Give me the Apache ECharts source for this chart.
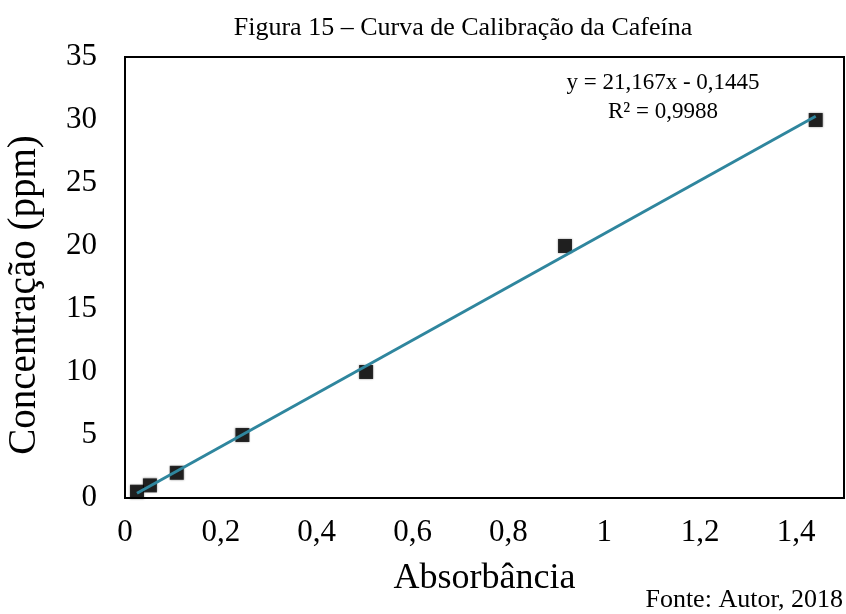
<!DOCTYPE html>
<html>
<head>
<meta charset="utf-8">
<script src="https://cdn.jsdelivr.net/npm/echarts@6/dist/echarts.min.js"></script>
<style>
  html, body { margin: 0; padding: 0; background: #fff; }
  #chart { width: 846px; height: 614px; }
</style>
</head>
<body>
<div id="chart"></div>
<script>
// dados
const absorbancia = [0.025, 0.052, 0.108, 0.245, 0.503, 0.918, 1.441];
const concentracao = [0.5, 1, 2, 5, 10, 20, 30];
// extremos da linha de tendência
const tendenciaX = [0.025, 1.441];
const tendenciaY = [0.38, 30.3];
const equacao = ['y = 21,167x - 0,1445', 'R² = 0,9988'];

const serif = '"Liberation Serif", "Times New Roman", serif';
const chart = echarts.init(document.getElementById('chart'));

const pontos = absorbancia.map((x, i) => [x, concentracao[i]]);
const tendencia = tendenciaX.map((x, i) => [x, tendenciaY[i]]);
const virgula = v => String(v).replace('.', ',');

const option = {
    backgroundColor: '#fff',
    animation: false,
    grid: {
        left: 125, right: 2, top: 57, bottom: 116,
        show: true, borderColor: '#000', borderWidth: 2
    },
    xAxis: {
        type: 'value',
        min: 0, max: 1.5, interval: 0.2,
        name: 'Absorbância',
        nameLocation: 'middle',
        nameGap: 63,
        nameTextStyle: { fontFamily: serif, fontSize: 36, color: '#000' },
        axisLine: { lineStyle: { color: '#000', width: 2 } },
        axisTick: { show: false },
        splitLine: { show: false },
        axisLabel: {
            showMaxLabel: false,
            margin: 19,
            fontFamily: serif, fontSize: 31, color: '#000',
            formatter: virgula
        }
    },
    yAxis: {
        type: 'value',
        min: 0, max: 35, interval: 5,
        axisLine: { show: true, lineStyle: { color: '#000', width: 2 } },
        axisTick: { show: false },
        splitLine: { show: false },
        axisLabel: {
            margin: 28,
            fontFamily: serif, fontSize: 31, color: '#000'
        }
    },
    series: [
        {
            type: 'scatter',
            data: pontos,
            symbol: 'rect',
            symbolSize: 14,
            itemStyle: {
                color: '#000',
                shadowBlur: 2,
                shadowColor: 'rgba(0,0,0,0.5)'
            },
            z: 2
        },
        {
            type: 'line',
            data: tendencia,
            symbol: 'none',
            lineStyle: { color: '#2F869E', width: 3 },
            z: 3
        }
    ],
    graphic: [
        {
            type: 'text', x: 463, y: 28,
            style: {
                text: 'Figura 15 – Curva de Calibração da Cafeína',
                font: '26px ' + serif, fill: '#000',
                align: 'center', verticalAlign: 'middle'
            }
        },
        {
            type: 'text', x: 25, y: 295, rotation: Math.PI / 2,
            style: {
                text: 'Concentração (ppm)',
                font: '39px ' + serif, fill: '#000',
                align: 'center', verticalAlign: 'middle'
            }
        },
        {
            type: 'text', x: 663, y: 83,
            style: {
                text: equacao[0], font: '23px ' + serif, fill: '#000',
                align: 'center', verticalAlign: 'middle'
            }
        },
        {
            type: 'text', x: 663, y: 112,
            style: {
                text: equacao[1], font: '23px ' + serif, fill: '#000',
                align: 'center', verticalAlign: 'middle'
            }
        },
        {
            type: 'text', x: 843, y: 600,
            style: {
                text: 'Fonte: Autor, 2018', font: '26px ' + serif, fill: '#000',
                align: 'right', verticalAlign: 'middle'
            }
        }
    ]
};

chart.setOption(option);
window.addEventListener('resize', () => chart.resize());
</script>
</body>
</html>
